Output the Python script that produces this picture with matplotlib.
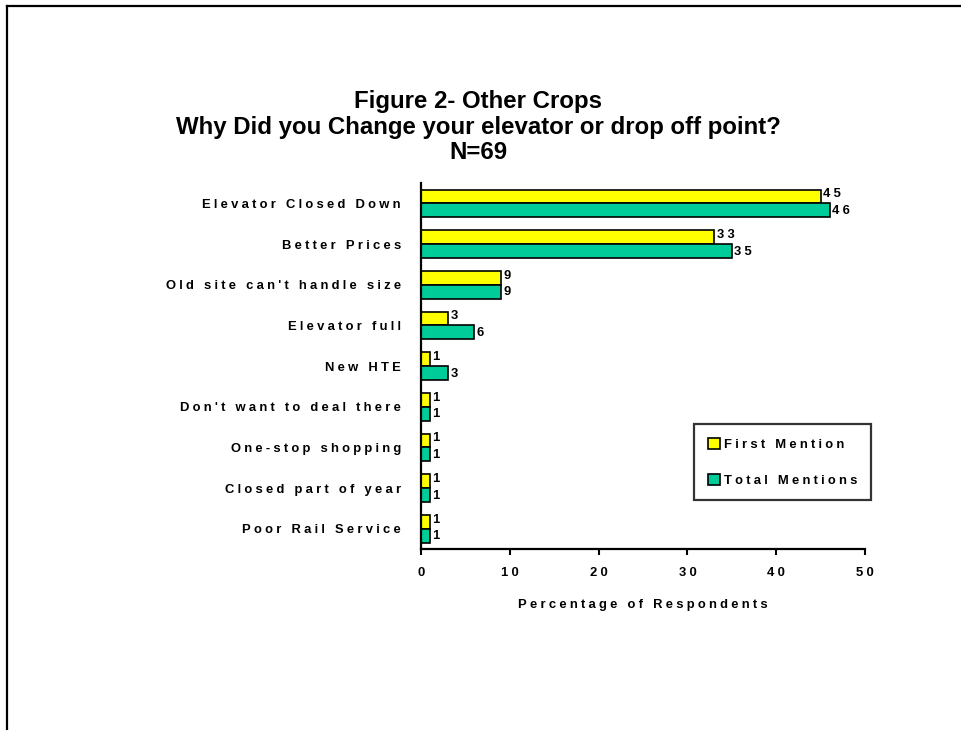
import matplotlib
matplotlib.use("Agg")
import matplotlib.pyplot as plt
from matplotlib.patches import Patch
from matplotlib.lines import Line2D
import numpy as np

categories = [
    "Elevator Closed Down",
    "Better Prices",
    "Old site can't handle size",
    "Elevator full",
    "New HTE",
    "Don't want to deal there",
    "One-stop shopping",
    "Closed part of year",
    "Poor Rail Service",
]
first_mention = [45, 33, 9, 3, 1, 1, 1, 1, 1]
total_mentions = [46, 35, 9, 6, 3, 1, 1, 1, 1]
series_names = ["First Mention", "Total Mentions"]
x_ticks = [0, 10, 20, 30, 40, 50]

YELLOW = "#FFFF00"
TEAL = "#00CC99"
FONT = ["Liberation Sans", "DejaVu Sans"]
plt.rcParams["font.family"] = FONT
LABEL_SIZE = 9.4


def spaced(s):
    """Widen letter spacing by putting a quarter-em space between characters."""
    return "\u2005".join(s)


fig = plt.figure(figsize=(9.62, 7.30), dpi=100)
ax = fig.add_axes([0.4376, 0.2479, 0.4616, 0.5014])

y = np.arange(len(categories))
h = 0.34
ax.barh(y - h / 2, first_mention, height=h, color=YELLOW, edgecolor="black", linewidth=1.2)
ax.barh(y + h / 2, total_mentions, height=h, color=TEAL, edgecolor="black", linewidth=1.2)

for yi, v in zip(y, first_mention):
    ax.text(v + 0.3, yi - h / 2 - 0.05, spaced(str(v)), va="center", ha="left",
            fontsize=LABEL_SIZE, fontweight="bold")
for yi, v in zip(y, total_mentions):
    ax.text(v + 0.3, yi + h / 2 + 0.02, spaced(str(v)), va="center", ha="left",
            fontsize=LABEL_SIZE, fontweight="bold")

ax.set_ylim(len(categories) - 0.5, -0.5)
ax.set_xlim(0, 50)
ax.set_yticks(y)
ax.set_yticklabels([spaced(c) for c in categories], fontsize=LABEL_SIZE, fontweight="bold")
ax.set_xticks(x_ticks)
ax.set_xticklabels([spaced(str(t)) for t in x_ticks], fontsize=LABEL_SIZE, fontweight="bold")
ax.tick_params(axis="y", length=0, pad=14.5)
ax.tick_params(axis="x", length=4, width=1.5, pad=9, direction="out")
ax.set_xlabel(spaced("Percentage of Respondents"), fontsize=LABEL_SIZE, fontweight="bold",
              labelpad=14)

for side in ("top", "right"):
    ax.spines[side].set_visible(False)
for side in ("left", "bottom"):
    ax.spines[side].set_linewidth(1.6)

fig.text(0.497, 0.826,
         "Figure 2- Other Crops\nWhy Did you Change your elevator or drop off point?\nN=69",
         ha="center", va="center", fontsize=17.3, fontweight="bold", linespacing=1.13)

handles = [Patch(facecolor=YELLOW, edgecolor="black", linewidth=1.2),
           Patch(facecolor=TEAL, edgecolor="black", linewidth=1.2)]
leg = fig.legend(handles, [spaced(s) for s in series_names],
                 loc="upper left", bbox_to_anchor=(0.7214, 0.4192),
                 bbox_transform=fig.transFigure,
                 prop={"size": LABEL_SIZE, "weight": "bold", "family": FONT},
                 frameon=True, fancybox=False, edgecolor="black",
                 handlelength=0.95, handleheight=0.95, handletextpad=0.3,
                 labelspacing=1.75, borderpad=1.05, borderaxespad=0)
leg.get_frame().set_linewidth(1.6)

# page border along the top and left edges
fig.add_artist(Line2D([0.0073, 0.0073], [0.0, 0.9918], color="black", linewidth=1.6,
                      transform=fig.transFigure))
fig.add_artist(Line2D([0.0073, 1.0], [0.9918, 0.9918], color="black", linewidth=1.6,
                      transform=fig.transFigure))

fig.savefig("out.png", dpi=100)
